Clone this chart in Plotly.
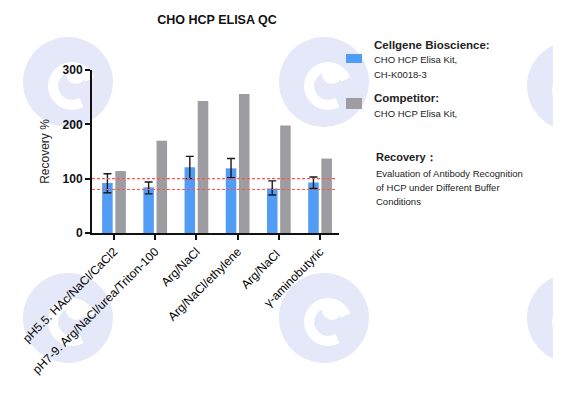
import math
import plotly.graph_objects as go

categories = ["pH5.5. HAc/NaCl/CaCl2", "pH7-9. Arg/NaCl/urea/Triton-100", "Arg/NaCl",
              "Arg/NaCl/ethylene", "Arg/NaCl ", "γ-aminobutyric"]
cellgene = [92, 84, 121, 119, 82, 93]
cellgene_err_plus = [17, 10, 20, 18, 14, 10]
cellgene_err_minus = [18, 12, 21, 17, 12, 11]
competitor = [114, 170, 243, 256, 198, 137]
ref_lines = [100, 80]
y_ticks = [0, 100, 200, 300]

FONT = "Liberation Sans, Arial, sans-serif"

# page body has an 8px margin; layout is expressed in screen pixels
OFF = 8
W, H = 561 - 2 * OFF, 398 - 2 * OFF
PL, PR, PT, PB = 92, 339, 70, 233  # plot area in screen px

fig = go.Figure()
fig.add_trace(go.Bar(
    x=categories, y=cellgene, name="Cellgene Bioscience",
    marker=dict(color="#519df6", line=dict(width=0)),
    error_y=dict(type="data", symmetric=False, array=cellgene_err_plus,
                 arrayminus=cellgene_err_minus, color="#1a1a1a", thickness=1.4, width=4),
))
fig.add_trace(go.Bar(
    x=categories, y=competitor, name="Competitor",
    marker=dict(color="#9d9ca1", line=dict(width=0)),
))

for v in ref_lines:
    fig.add_shape(type="line", xref="paper", yref="y", x0=0, x1=0.99, y0=v, y1=v,
                  line=dict(color="#ff5555", width=1.1, dash="3px,2px"), layer="above")

fig.update_layout(
    width=W, height=H,
    margin=dict(l=PL - OFF, r=OFF + W - PR, t=PT - OFF, b=OFF + H - PB),
    paper_bgcolor="white", plot_bgcolor="rgba(0,0,0,0)",
    barmode="group", bargap=0.36, bargroupgap=0.2,
    showlegend=False,
    font=dict(family=FONT, color="#111"),
    title=dict(text="<b>CHO HCP ELISA QC</b>", x=(217 - OFF) / W, xanchor="center",
               y=1 - (20 - OFF) / H, yanchor="middle",
               font=dict(size=12.5, color="#111", family=FONT)),
    xaxis=dict(range=[-0.534, 5.46], showline=True, linecolor="#111", linewidth=2,
               ticks="outside", ticklen=5, tickwidth=2, tickcolor="#111",
               tickangle=-45, tickfont=dict(size=12, family=FONT, color="#000"),
               showgrid=False, zeroline=False),
    yaxis=dict(range=[0, 300], tickvals=y_ticks, showline=True, linecolor="#111", linewidth=2,
               ticks="outside", ticklen=5, tickwidth=2, tickcolor="#111",
               tickfont=dict(size=12, family=FONT, color="#111", weight="bold"),
               showgrid=False, zeroline=False,
               title=dict(text="Recovery %", font=dict(size=12, family=FONT, color="#222"), standoff=10)),
)

def px_x(px):
    return (px - PL) / (PR - PL)

def px_y(py):
    return 1 - (py - PT) / (PB - PT)

# watermark logos (decoration)
wm_centers = [(68, 82), (324, 82), (572, 86), (68, 318), (324, 318), (572, 318)]
R = 45
for cx, cy in wm_centers:
    fig.add_shape(type="circle", xref="paper", yref="paper", layer="below",
                  x0=px_x(cx - R), x1=px_x(cx + R), y0=px_y(cy + R), y1=px_y(cy - R),
                  fillcolor="#e5e8f8", line=dict(width=0))
    pts = []
    r = 0.42 * R
    ox, oy = cx + 4, cy + 4
    for i in range(0, 29):
        a = math.radians(20 + i * 10)
        pts.append((ox + r * math.cos(a), oy - r * math.sin(a)))
    path = "M " + " L ".join(f"{px_x(x):.4f},{px_y(y):.4f}" for x, y in pts)
    fig.add_shape(type="path", xref="paper", yref="paper", layer="below", path=path,
                  line=dict(color="white", width=10))
    fig.add_shape(type="circle", xref="paper", yref="paper", layer="below",
                  x0=px_x(ox - 6), x1=px_x(ox + 14), y0=px_y(oy - 2), y1=px_y(oy - 22),
                  fillcolor="white", line=dict(width=0))

# legend swatches
fig.add_shape(type="rect", xref="paper", yref="paper", x0=px_x(346), x1=px_x(362),
              y0=px_y(63), y1=px_y(54), fillcolor="#519df6", line=dict(width=0))
fig.add_shape(type="rect", xref="paper", yref="paper", x0=px_x(346), x1=px_x(362),
              y0=px_y(109), y1=px_y(98), fillcolor="#9d9ca1", line=dict(width=0))

texts = [
    ("<b>Cellgene Bioscience:</b>", 372, 45, 11.5),
    ("CHO HCP Elisa Kit,", 372, 60, 9.5),
    ("CH-K0018-3", 372, 74, 9.5),
    ("<b>Competitor:</b>", 372, 98, 11.5),
    ("CHO HCP Elisa Kit,", 372, 113, 9.5),
    ("<b>Recovery：</b>", 374, 157, 11),
    ("Evaluation of Antibody Recognition", 374, 173, 9.5),
    ("of HCP under Different Buffer", 374, 187, 9.5),
    ("Conditions", 374, 201, 9.5),
]
for t, x, y, s in texts:
    fig.add_annotation(text=t, xref="paper", yref="paper", x=px_x(x), y=px_y(y),
                       xanchor="left", yanchor="middle", showarrow=False,
                       font=dict(size=s, family=FONT, color="#222"))

fig.write_html("out.html")
